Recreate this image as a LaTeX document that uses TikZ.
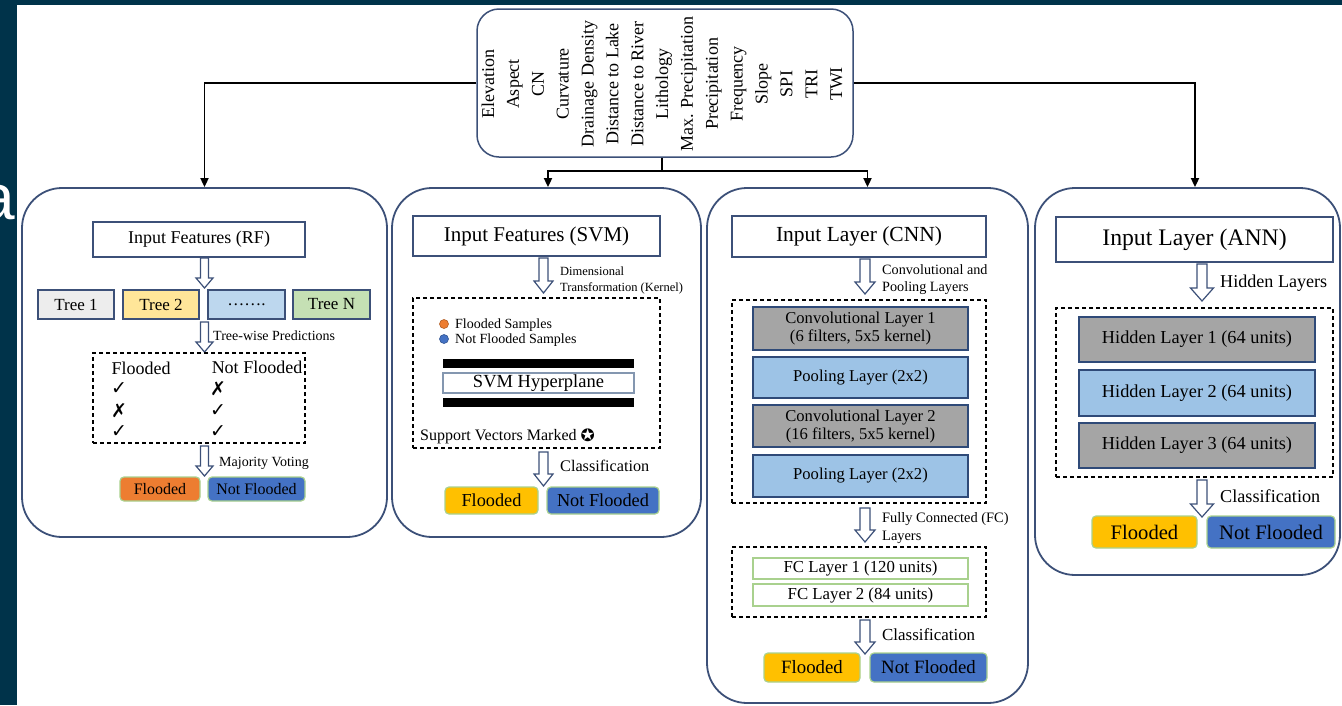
\documentclass[tikz,border=0pt]{standalone}
\usepackage{fontspec}
\setmainfont{Liberation Serif}
\newfontfamily\symfont{DejaVu Sans}
\newfontfamily\slidefont{Liberation Sans}
\usetikzlibrary{arrows.meta,calc}

\definecolor{navy}{HTML}{00334A}
\definecolor{edge}{HTML}{3C5078}
\definecolor{layeredge}{HTML}{2F4A78}
\definecolor{leaf}{HTML}{A9D18E}
\definecolor{orangef}{HTML}{ED7D31}
\definecolor{bluef}{HTML}{4472C4}
\definecolor{goldf}{HTML}{FFC000}
\definecolor{greyf}{HTML}{A5A5A5}
\definecolor{skyf}{HTML}{9DC3E6}
\definecolor{treeA}{HTML}{EDEDED}
\definecolor{treeB}{HTML}{FFE699}
\definecolor{treeC}{HTML}{BDD7EE}
\definecolor{treeD}{HTML}{C5E0B4}
\definecolor{hypedge}{HTML}{8497B0}

% font size helper: size and baseline skip in pt
\newcommand\fs[2]{\fontsize{#1}{#2}\selectfont}

% box node from its corner coordinates: style, name, x1, y1, x2, y2, text
\newcommand\boxnode[7]{%
  \node[#1, minimum width={#5-#3}, minimum height={#6-#4}] (#2)
    at ({(#3+#5)/2},{(#4+#6)/2}) {#7};}

% hollow block arrow pointing down: x, top, tip, shaft width, head width, head length
\newcommand\hollowarrow[6]{%
  \draw[hollow] ({#1-#4/2},#2) -- ({#1+#4/2},#2) -- ({#1+#4/2},{#3-#6})
    -- ({#1+#5/2},{#3-#6}) -- (#1,#3) -- ({#1-#5/2},{#3-#6})
    -- ({#1-#4/2},{#3-#6}) -- cycle;}

\tikzset{
  panel/.style={draw=edge, line width=1.8pt, rounded corners=40pt, inner sep=0pt},
  inbox/.style={draw=edge, line width=1.3pt, fill=white, inner sep=0pt, align=center},
  treebox/.style={draw=edge, line width=1.2pt, inner sep=0pt, font=\fs{17}{20}},
  grouped/.style={draw=black, line width=1.2pt, dash pattern=on 4pt off 3pt, inner sep=0pt},
  convbox/.style={draw=layeredge, fill=greyf, line width=1.3pt, inner sep=0pt, align=center},
  poolbox/.style={draw=layeredge, fill=skyf, line width=1.3pt, inner sep=0pt, align=center},
  fcbox/.style={draw=leaf, line width=1.3pt, fill=white, inner sep=0pt},
  floodbtn/.style={fill=goldf, draw=leaf, line width=1.2pt, rounded corners=4pt, inner sep=0pt},
  drybtn/.style={fill=bluef, draw=leaf, line width=1.2pt, rounded corners=4pt, inner sep=0pt},
  note/.style={anchor=west, inner sep=0pt, align=left},
  vote/.style={font=\symfont\fs{19}{19}, inner sep=0pt},
  bar/.style={fill=black, inner sep=0pt},
  conn/.style={draw=black, line width=1.8pt, -{Triangle[length=9pt,width=8pt]}},
  hollow/.style={draw=edge, fill=white, line width=1.2pt, line join=miter},
}

\begin{document}
\begin{tikzpicture}[x=1pt, y=-1pt]
\useasboundingbox (0,0) rectangle (1342,705);

% slide frame and the clipped letter at its edge
\fill[navy] (0,0) rectangle (1342,705);
\node[anchor=base east, inner sep=0pt, text=white,
      font=\slidefont\fs{64}{64}] (tag) at (15.5,219.5) {a};
\fill[white] (17,5) rectangle (1342,705);

% ---------- feature list ----------
\node[panel, rounded corners=22pt, line width=1.5pt,
      minimum width=376, minimum height=148] (feat) at (665,83) {};
\node[rotate=90, align=center, inner sep=0pt, font=\fs{18}{24.86}] (featlist) at (662,84)
  {Elevation\\Aspect\\CN\\Curvature\\Drainage Density\\Distance to Lake\\Distance to River\\Lithology\\Max. Precipitation\\Precipitation\\Frequency\\Slope\\SPI\\TRI\\TWI};

% ---------- model panels ----------
\boxnode{panel}{rfp}{22}{188}{387}{537}{}
\boxnode{panel}{svmp}{392}{188}{701}{537}{}
\boxnode{panel}{cnnp}{707}{188}{1028}{703}{}
\boxnode{panel}{annp}{1035}{188}{1340}{575}{}

% connectors from the feature list
\coordinate (split) at (662,171);
\draw[conn] (feat.west) -| (rfp.north);
\draw[conn] (feat.east) -| ([xshift=7.5pt]annp.north);
\draw[line width=1.8pt] (feat.south -| split) -- (split);
\draw[conn] (split) -| ([xshift=1.5pt]svmp.north);
\draw[conn] (split) -| (cnnp.north);

% ---------- Random Forest ----------
\boxnode{inbox, font=\fs{18}{20}}{rfin}{93}{222}{305}{257}{Input Features (RF)}
\hollowarrow{204.5}{258}{288}{8}{17}{10}
\boxnode{treebox, fill=treeA}{tr1}{38}{290}{114}{319}{Tree 1}
\boxnode{treebox, fill=treeB}{tr2}{123}{290}{199}{319}{Tree 2}
\boxnode{treebox, fill=treeC}{tr3}{208}{290}{285}{319}{……. }
\boxnode{treebox, fill=treeD}{tr4}{293}{290}{370}{319}{Tree N}
\hollowarrow{204.5}{322}{352}{8}{17}{10}
\node[note, font=\fs{14}{16}] (twp) at (213,336) {Tree-wise Predictions};
\boxnode{grouped}{votes}{93}{353}{305}{443}{}
\node[inner sep=0pt, font=\fs{18}{20}] (hf) at (141,368) {Flooded};
\node[inner sep=0pt, font=\fs{18}{20}] (hn) at (257,367) {Not Flooded};
\node[vote] (v11) at (119,389) {✓};
\node[vote] (v21) at (119,411) {✗};
\node[vote] (v31) at (119,432) {✓};
\node[vote] (v12) at (218,389) {✗};
\node[vote] (v22) at (218,411) {✓};
\node[vote] (v32) at (218,432) {✓};
\hollowarrow{204.5}{446}{476}{8}{17}{10}
\node[note, font=\fs{14}{16}] (mv) at (219,463) {Majority Voting};
\boxnode{floodbtn, fill=orangef, font=\fs{16}{18}}{rff}{120}{477}{200}{501}{Flooded}
\boxnode{drybtn, font=\fs{16}{18}}{rfn}{208}{477}{305}{501}{Not Flooded}

% ---------- SVM ----------
\boxnode{inbox, font=\fs{21}{24}}{svin}{413}{216}{660}{256}{Input Features (SVM)}
\hollowarrow{543.5}{258}{293}{9}{19}{12}
\node[note, font=\fs{12.5}{16}] (dt) at (560,280) {Dimensional\\Transformation (Kernel)};
\boxnode{grouped}{space}{413}{298}{660}{448}{}
\node[circle, fill=orangef, draw=orangef!75!black, line width=0.6pt, minimum size=9, inner sep=0pt] (odot) at (444,324) {};
\node[note, font=\fs{14}{15}] (olab) at (455,325) {Flooded Samples};
\node[circle, fill=bluef, draw=bluef!75!black, line width=0.6pt, minimum size=9, inner sep=0pt] (bdot) at (444,339) {};
\node[note, font=\fs{14}{15}] (blab) at (455,340) {Not Flooded Samples};
\boxnode{bar}{mtop}{443}{359}{634}{368}{}
\boxnode{inbox, draw=hypedge, line width=1.2pt, font=\fs{18.5}{20}}{hyp}{443}{373}{634}{393}{SVM Hyperplane}
\boxnode{bar}{mbot}{443}{398}{634}{407}{}
\node[note, font=\fs{16}{18}] (sv) at (420,436) {Support Vectors Marked {\symfont\fs{17}{17}\raisebox{-1pt}{✪}}};
\hollowarrow{543.5}{452}{486}{9}{19}{12}
\node[note, font=\fs{16.2}{18}] (svc) at (560,466) {Classification};
\boxnode{floodbtn, font=\fs{18.3}{20}}{svf}{445}{487}{538}{514}{Flooded}
\boxnode{drybtn, font=\fs{18.3}{20}}{svn}{547}{487}{659}{514}{Not Flooded}

% ---------- CNN ----------
\boxnode{inbox, font=\fs{21.5}{24}}{cnin}{732}{216}{986}{257}{Input Layer (CNN)}
\hollowarrow{865}{259}{294}{10}{20}{12}
\node[note, font=\fs{14.2}{17}] (cpl) at (882,279.5) {Convolutional and\\Pooling Layers};
\boxnode{grouped}{convgrp}{732}{300}{986}{503}{}
\boxnode{convbox, font=\fs{16.6}{18}}{cv1}{753}{307}{968}{350}{Convolutional Layer 1\\(6 filters, 5x5 kernel)}
\boxnode{poolbox, font=\fs{16.6}{18}}{pl1}{753}{357}{968}{398}{Pooling Layer (2x2)}
\boxnode{convbox, font=\fs{16.6}{18}}{cv2}{753}{405}{968}{447}{Convolutional Layer 2\\(16 filters, 5x5 kernel)}
\boxnode{poolbox, font=\fs{16.6}{18}}{pl2}{753}{455}{968}{497}{Pooling Layer (2x2)}
\hollowarrow{865}{508}{542}{10}{20}{12}
\node[note, font=\fs{14.4}{18}] (fcl) at (882,528) {Fully Connected (FC)\\Layers};
\boxnode{grouped}{fcgrp}{732}{547}{986}{617}{}
\boxnode{fcbox, font=\fs{16.8}{18}}{fc1}{753}{558}{968}{579}{FC Layer 1 (120 units)}
\boxnode{fcbox, font=\fs{16.8}{18}}{fc2}{753}{584}{968}{606}{FC Layer 2 (84 units)}
\hollowarrow{865}{620}{654}{10}{20}{12}
\node[note, font=\fs{16.9}{18}] (cnc) at (882,635) {Classification};
\boxnode{floodbtn, font=\fs{18.8}{20}}{cnf}{764}{653}{860}{682}{Flooded}
\boxnode{drybtn, font=\fs{18.8}{20}}{cnn}{870}{653}{987}{682}{Not Flooded}

% ---------- ANN ----------
\boxnode{inbox, font=\fs{23.7}{26}}{anin}{1056}{217}{1333}{262}{Input Layer (ANN)}
\hollowarrow{1202}{264}{301}{10}{23}{13}
\node[note, font=\fs{18.1}{20}] (hl) at (1220,283) {Hidden Layers};
\boxnode{grouped}{hidgrp}{1056}{308}{1333}{477}{}
\boxnode{convbox, font=\fs{18.3}{20}}{h1}{1079}{317}{1315}{362}{Hidden Layer 1 (64 units)}
\boxnode{poolbox, font=\fs{18.3}{20}}{h2}{1079}{370}{1315}{416}{Hidden Layer 2 (64 units)}
\boxnode{convbox, font=\fs{18.3}{20}}{h3}{1079}{423}{1315}{468}{Hidden Layer 3 (64 units)}
\hollowarrow{1202}{480}{517}{10}{23}{13}
\node[note, font=\fs{18.2}{20}] (anc) at (1220,496) {Classification};
\boxnode{floodbtn, font=\fs{20.6}{22}}{anf}{1092}{516}{1197}{548}{Flooded}
\boxnode{drybtn, font=\fs{20.6}{22}}{ann}{1207}{516}{1335}{548}{Not Flooded}
\end{tikzpicture}
\end{document}
